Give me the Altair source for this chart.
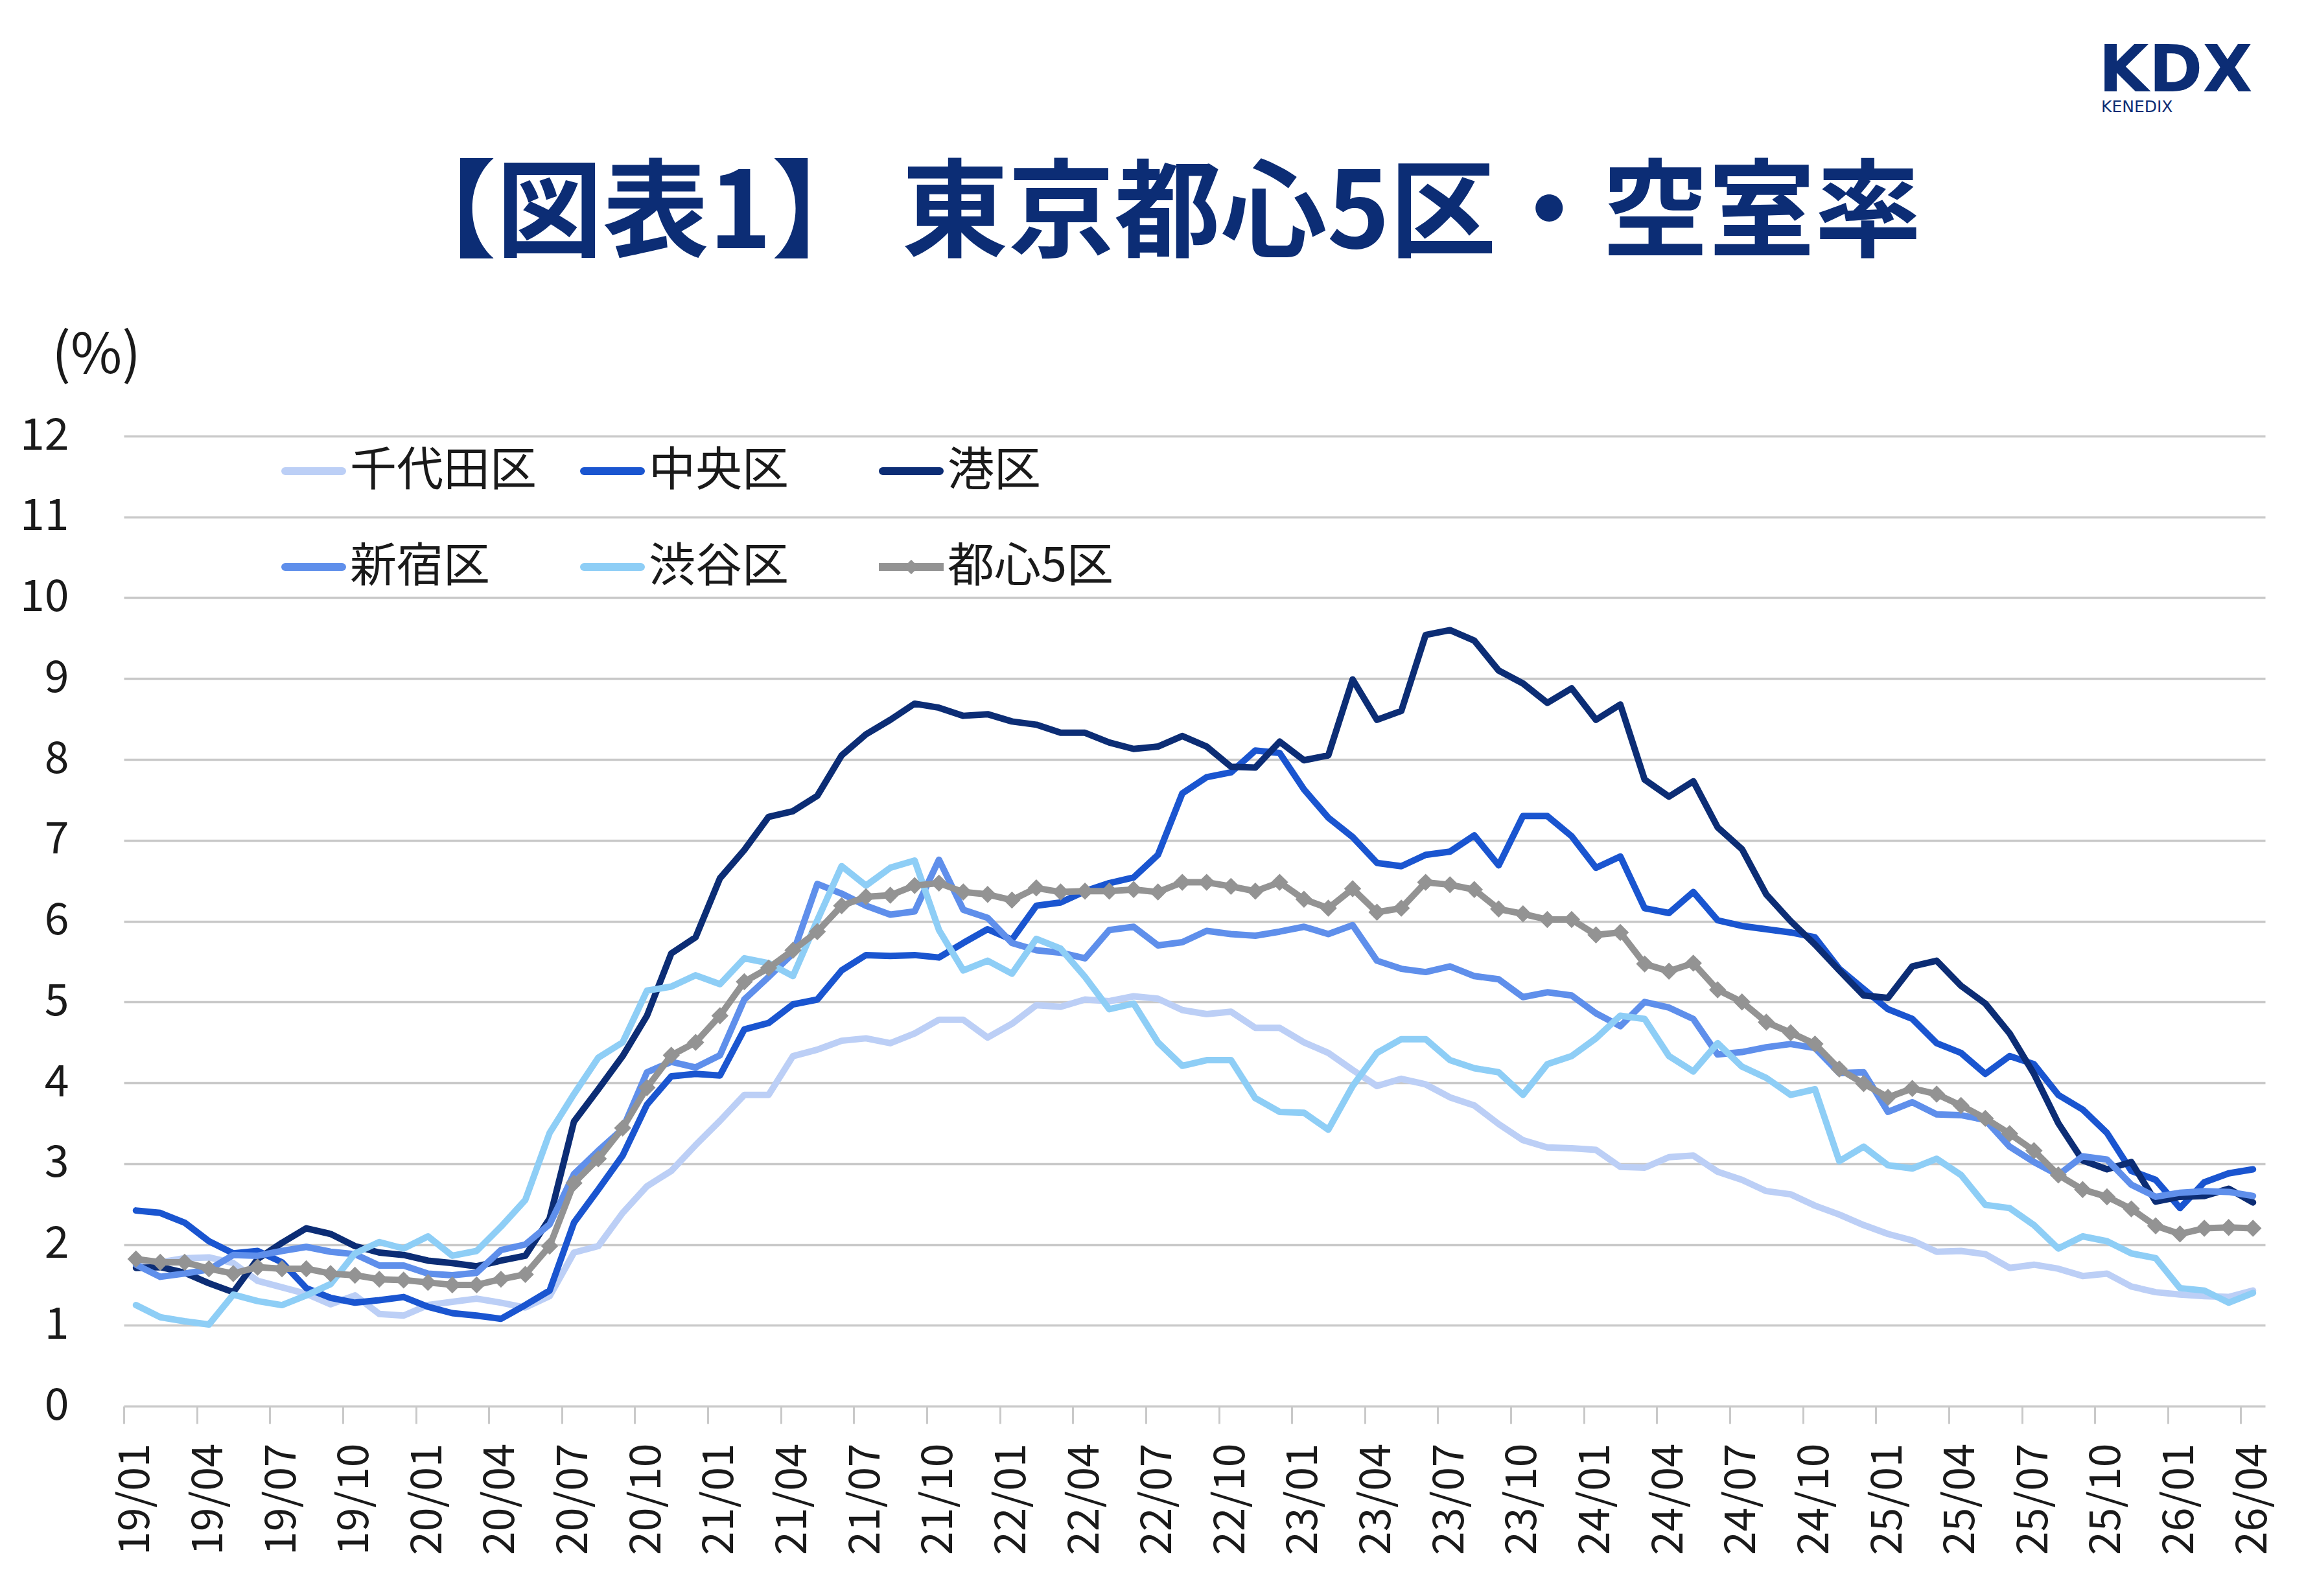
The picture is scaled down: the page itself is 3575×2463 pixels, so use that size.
import altair as alt
import pandas as pd

# ---- series (monthly vacancy rate, %) ----
SERIES = ["千代田区", "中央区", "港区", "新宿区", "渋谷区", "都心5区"]
COLORS = ["#BCCFF6", "#1A55D0", "#0C2D75", "#5F8FEB", "#8ECEF6", "#939393"]

TICK_LABELS = [
    "19/01", "19/04", "19/07", "19/10", "20/01", "20/04", "20/07", "20/10",
    "21/01", "21/04", "21/07", "21/10", "22/01", "22/04", "22/07", "22/10",
    "23/01", "23/04", "23/07", "23/10", "24/01", "24/04", "24/07", "24/10",
    "25/01", "25/04", "25/07", "25/10", "26/01", "26/04",
]
MONTHS = [f"{y:02d}/{m:02d}" for y in range(19, 27) for m in range(1, 13)][:88]

chiyoda = [
    1.78, 1.78, 1.83, 1.84, 1.77, 1.55, 1.47, 1.39, 1.26, 1.37, 1.14, 1.12, 1.25, 1.29, 1.33, 1.28, 1.22, 1.36, 1.90, 1.98, 2.39, 2.72,
    2.91, 3.23, 3.53, 3.85, 3.85, 4.33, 4.41, 4.52, 4.55, 4.49, 4.61, 4.78, 4.78, 4.56, 4.73, 4.96, 4.94, 5.03, 5.01, 5.07, 5.04, 4.90,
    4.85, 4.88, 4.68, 4.68, 4.50, 4.37, 4.16, 3.96, 4.05, 3.98, 3.82, 3.72, 3.49, 3.29, 3.20, 3.19, 3.17, 2.96, 2.95, 3.08, 3.10, 2.90,
    2.80, 2.66, 2.62, 2.48, 2.37, 2.24, 2.13, 2.05, 1.91, 1.92, 1.88, 1.71, 1.75, 1.70, 1.61, 1.64, 1.48, 1.41, 1.38, 1.36, 1.35, 1.43,
]
chuo = [
    2.42, 2.39, 2.27, 2.04, 1.89, 1.92, 1.78, 1.46, 1.34, 1.28, 1.31, 1.35, 1.23, 1.15, 1.12, 1.08, 1.25, 1.43, 2.27, 2.68, 3.10, 3.73,
    4.08, 4.11, 4.09, 4.66, 4.74, 4.97, 5.03, 5.39, 5.58, 5.57, 5.58, 5.55, 5.73, 5.90, 5.77, 6.19, 6.23, 6.37, 6.47, 6.54, 6.82, 7.58,
    7.78, 7.84, 8.11, 8.08, 7.63, 7.28, 7.04, 6.72, 6.68, 6.82, 6.86, 7.06, 6.69, 7.30, 7.30, 7.05, 6.66, 6.80, 6.16, 6.10, 6.36, 6.01,
    5.94, 5.90, 5.86, 5.80, 5.41, 5.16, 4.91, 4.79, 4.49, 4.37, 4.11, 4.33, 4.23, 3.85, 3.67, 3.38, 2.91, 2.80, 2.45, 2.77, 2.88, 2.93,
]
minato = [
    1.71, 1.72, 1.65, 1.52, 1.41, 1.82, 2.02, 2.20, 2.13, 1.98, 1.90, 1.87, 1.80, 1.77, 1.73, 1.80, 1.86, 2.32, 3.52, 3.92, 4.33, 4.83,
    5.60, 5.80, 6.53, 6.88, 7.29, 7.36, 7.55, 8.05, 8.31, 8.49, 8.69, 8.64, 8.54, 8.56, 8.47, 8.43, 8.33, 8.33, 8.21, 8.13, 8.16, 8.29,
    8.16, 7.91, 7.90, 8.22, 7.99, 8.05, 8.99, 8.49, 8.60, 9.54, 9.60, 9.47, 9.10, 8.94, 8.70, 8.88, 8.49, 8.68, 7.75, 7.54, 7.73, 7.16,
    6.89, 6.33, 6.00, 5.71, 5.39, 5.08, 5.05, 5.44, 5.51, 5.20, 4.98, 4.61, 4.11, 3.50, 3.04, 2.93, 3.02, 2.53, 2.59, 2.60, 2.69, 2.52,
]
shinjuku = [
    1.75, 1.60, 1.64, 1.69, 1.87, 1.86, 1.92, 1.97, 1.91, 1.88, 1.74, 1.74, 1.64, 1.62, 1.65, 1.93, 2.00, 2.25, 2.87, 3.16, 3.43, 4.13,
    4.26, 4.19, 4.34, 5.03, 5.31, 5.60, 6.46, 6.34, 6.19, 6.08, 6.12, 6.76, 6.14, 6.04, 5.73, 5.64, 5.61, 5.54, 5.89, 5.93, 5.70, 5.74,
    5.88, 5.84, 5.82, 5.87, 5.93, 5.84, 5.95, 5.51, 5.41, 5.37, 5.44, 5.32, 5.28, 5.06, 5.12, 5.08, 4.86, 4.70, 5.00, 4.93, 4.79, 4.35,
    4.38, 4.44, 4.48, 4.43, 4.12, 4.13, 3.64, 3.76, 3.61, 3.60, 3.54, 3.21, 3.02, 2.86, 3.09, 3.05, 2.74, 2.59, 2.64, 2.66, 2.65, 2.60,
]
shibuya = [
    1.25, 1.10, 1.05, 1.01, 1.38, 1.30, 1.25, 1.37, 1.51, 1.89, 2.03, 1.95, 2.10, 1.86, 1.92, 2.22, 2.55, 3.38, 3.86, 4.31, 4.50, 5.14,
    5.19, 5.33, 5.22, 5.54, 5.48, 5.32, 6.01, 6.68, 6.44, 6.66, 6.75, 5.89, 5.39, 5.51, 5.35, 5.78, 5.66, 5.31, 4.91, 4.98, 4.50, 4.21,
    4.28, 4.28, 3.81, 3.64, 3.63, 3.42, 3.96, 4.37, 4.54, 4.54, 4.28, 4.18, 4.13, 3.85, 4.23, 4.33, 4.55, 4.83, 4.79, 4.33, 4.14, 4.49,
    4.20, 4.06, 3.85, 3.92, 3.03, 3.21, 2.98, 2.94, 3.06, 2.86, 2.49, 2.45, 2.24, 1.95, 2.10, 2.04, 1.89, 1.83, 1.46, 1.43, 1.28, 1.40,
]
central5 = [
    1.82, 1.78, 1.78, 1.70, 1.64, 1.72, 1.70, 1.70, 1.64, 1.62, 1.57, 1.56, 1.53, 1.50, 1.50, 1.57, 1.63, 1.98, 2.76, 3.06, 3.44, 3.94,
    4.34, 4.50, 4.83, 5.25, 5.42, 5.64, 5.87, 6.19, 6.30, 6.32, 6.44, 6.47, 6.36, 6.33, 6.26, 6.41, 6.36, 6.37, 6.37, 6.39, 6.36, 6.48,
    6.48, 6.43, 6.37, 6.48, 6.27, 6.16, 6.40, 6.11, 6.16, 6.48, 6.45, 6.39, 6.15, 6.09, 6.02, 6.02, 5.83, 5.86, 5.47, 5.38, 5.48, 5.15,
    5.00, 4.75, 4.62, 4.48, 4.17, 3.99, 3.82, 3.93, 3.86, 3.72, 3.56, 3.37, 3.16, 2.86, 2.68, 2.59, 2.44, 2.23, 2.13, 2.20, 2.21, 2.20,
]
VALUES = [chiyoda, chuo, minato, shinjuku, shibuya, central5]

# ---- layout ----
PLOT_W, PLOT_H = 3304, 1497
PAD_L, PAD_T = 191, 673
CANVAS_W, CANVAS_H = 3575, 2463
N = len(MONTHS)
HALF_STEP = PLOT_W / N / 2
FONT = "Noto Sans CJK JP"
NAVY = "#0C2D75"
TEXT = "#1A1A1A"
GRID = "#C9C9C9"

rows = []
for name, vals in zip(SERIES, VALUES):
    for i, v in enumerate(vals):
        rows.append({"idx": i, "month": MONTHS[i], "series": name, "value": v})
df = pd.DataFrame(rows)

label_array = "[" + ",".join(f"'{t}'" for t in TICK_LABELS) + "]"

x_enc = alt.X(
    "idx:Q",
    scale=alt.Scale(domain=[-0.5, N - 0.5], nice=False, zero=False),
    axis=alt.Axis(
        values=list(range(0, N, 3)),
        labelExpr=f"{label_array}[round(datum.value / 3)]",
        labelAngle=270,
        labelFont=FONT,
        labelFontSize=66,
        labelColor=TEXT,
        labelPadding=30,
        labelOverlap=False,
        labelFlush=False,
        tickOffset=-HALF_STEP,
        labelOffset=HALF_STEP,
        tickColor=GRID,
        tickWidth=3,
        tickSize=27,
        domain=False,
        grid=False,
    ),
    title=None,
)
y_enc = alt.Y(
    "value:Q",
    scale=alt.Scale(domain=[0, 12], nice=False, zero=True),
    axis=alt.Axis(
        values=list(range(0, 13)),
        labelFont=FONT,
        labelFontSize=68,
        labelColor=TEXT,
        labelPadding=85,
        ticks=False,
        domain=False,
        grid=True,
        gridColor=GRID,
        gridWidth=3.5,
    ),
    title=None,
)

base = alt.Chart(df).encode(x=x_enc, y=y_enc)

layers = []
for name, color in zip(SERIES, COLORS):
    layers.append(
        base.transform_filter(alt.datum.series == name)
        .mark_line(strokeWidth=10, strokeJoin="round", strokeCap="round", color=color)
    )
layers.append(
    base.transform_filter(alt.datum.series == SERIES[-1])
    .mark_point(shape="diamond", filled=True, size=700, opacity=1, color=COLORS[-1])
)


def annotation(text, x, y, **kw):
    return alt.Chart(pd.DataFrame({"t": [text]})).mark_text(**kw).encode(
        x=alt.value(x), y=alt.value(y), text="t:N"
    )


# ---- legend (two rows of three) ----
LEG_X0, LEG_Y0, LEG_DX, LEG_DY, LEG_LEN = 243, 54, 461, 148, 100
for k, (name, color) in enumerate(zip(SERIES, COLORS)):
    col, row = k % 3, k // 3
    x0 = LEG_X0 + col * LEG_DX
    y0 = LEG_Y0 + row * LEG_DY
    one = pd.DataFrame({"t": [name]})
    if name == "都心5区":
        layers.append(
            alt.Chart(one).mark_rule(color=color, strokeWidth=12, strokeCap="butt").encode(
                x=alt.value(x0), x2=alt.value(x0 + LEG_LEN), y=alt.value(y0)
            )
        )
        layers.append(
            alt.Chart(one).mark_point(shape="diamond", filled=True, size=500, opacity=1, color=color).encode(
                x=alt.value(x0 + LEG_LEN / 2), y=alt.value(y0)
            )
        )
    else:
        layers.append(
            alt.Chart(one).mark_rule(color=color, strokeWidth=12, strokeCap="round").encode(
                x=alt.value(x0 + 6), x2=alt.value(x0 + LEG_LEN - 6), y=alt.value(y0)
            )
        )
    layers.append(
        annotation(name, x0 + LEG_LEN + 6, y0, align="left", baseline="middle",
                   font=FONT, fontSize=72, color=TEXT)
    )

# ---- title, unit label and logo ----
layers.append(
    annotation("【図表1】 東京都心5区・空室率", 1592, -290, align="center",
               baseline="alphabetic", font=FONT, fontSize=164, fontWeight="bold", color=NAVY)
)
layers.append(
    annotation("(%)", -111, -123, align="left", baseline="middle", font=FONT,
               fontSize=86, color=TEXT)
)
layers.append(
    annotation("KDX", 3047, -532, align="left", baseline="alphabetic",
               font="DejaVu Sans", fontSize=100, fontWeight="bold", color=NAVY)
)
layers.append(
    annotation("KENEDIX", 3051, -500, align="left", baseline="alphabetic",
               font="DejaVu Sans", fontSize=25, color=NAVY)
)

chart = (
    alt.layer(*layers)
    .properties(
        width=PLOT_W,
        height=PLOT_H,
        autosize=alt.AutoSizeParams(type="none"),
        padding={"left": PAD_L, "top": PAD_T,
                 "right": CANVAS_W - PAD_L - PLOT_W,
                 "bottom": CANVAS_H - PAD_T - PLOT_H},
        background="white",
    )
    .configure_view(stroke=None)
)

chart.save("out.html", embed_options={"renderer": "svg", "actions": False})
